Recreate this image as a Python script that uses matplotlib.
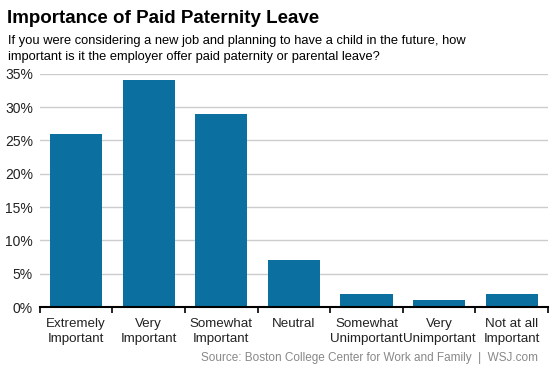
import numpy as np
import matplotlib.pyplot as plt

plt.rcParams['font.family'] = ['Liberation Sans', 'DejaVu Sans']

categories = ["Extremely\nImportant", "Very\nImportant", "Somewhat\nImportant", "Neutral",
              "Somewhat\nUnimportant", "Very\nUnimportant", "Not at all\nImportant"]
values = [26, 34, 29, 7, 2, 1, 2]
yticks = [0, 5, 10, 15, 20, 25, 30, 35]

fig = plt.figure(figsize=(5.53, 3.69), dpi=100)
ax = fig.add_axes([0.072, 0.168, 0.919, 0.632])

x = np.arange(len(categories))
ax.bar(x, values, width=0.72, color='#0b6fa0', zorder=3)

ax.set_xlim(-0.5, len(categories) - 0.5)
ax.set_ylim(0, 35)
ax.set_yticks(yticks)
ax.set_yticklabels([f"{v}%" for v in yticks], fontsize=10, color='#222222')
ax.yaxis.grid(True, color='#cccccc', linewidth=1, zorder=0)
ax.tick_params(axis='y', length=0, pad=5)

# category labels centred, ticks at slot boundaries
ax.set_xticks(x)
ax.set_xticklabels(categories, fontsize=9.6, color='#222222', linespacing=1.35)
ax.tick_params(axis='x', which='major', length=0, pad=8)
ax.set_xticks(np.arange(-0.5, len(categories)), minor=True)
ax.tick_params(axis='x', which='minor', length=4, width=1.2, direction='out', color='black')

for s in ['top', 'right', 'left']:
    ax.spines[s].set_visible(False)
ax.spines['bottom'].set_linewidth(1.5)
ax.spines['bottom'].set_zorder(4)

fig.text(0.013, 0.95, "Importance of Paid Paternity Leave", fontsize=13.5,
         fontweight='bold', ha='left', va='center')
fig.text(0.015, 0.868, "If you were considering a new job and planning to have a child in the future, how\n"
         "important is it the employer offer paid paternity or parental leave?",
         fontsize=9.3, ha='left', va='center', linespacing=1.45)
fig.text(0.973, 0.03, "Source: Boston College Center for Work and Family  |  WSJ.com",
         fontsize=8.5, color='#888888', ha='right', va='center')

fig.savefig('out.png', dpi=100)
